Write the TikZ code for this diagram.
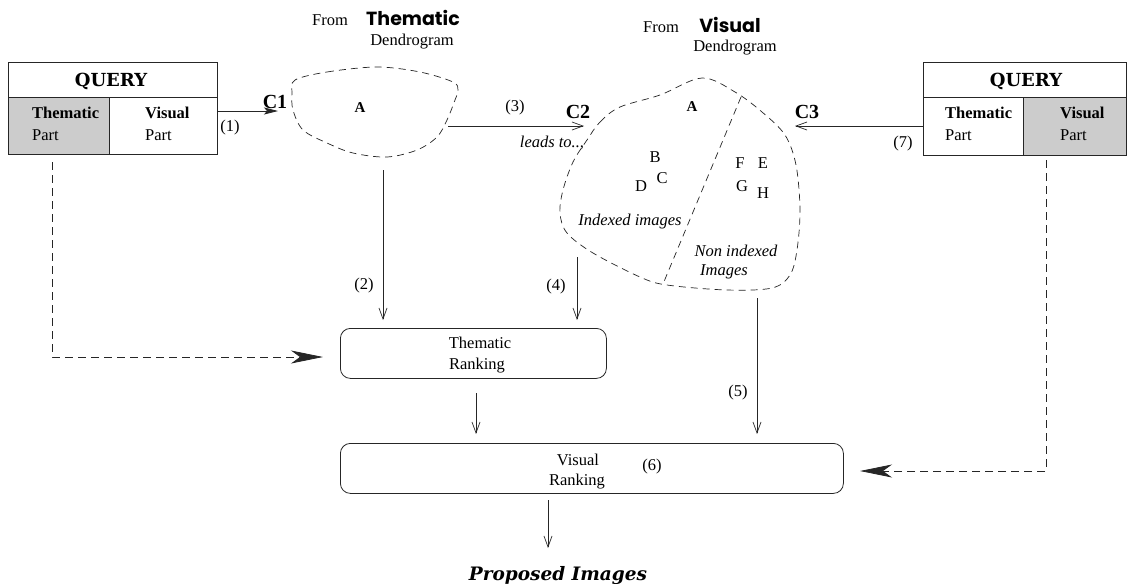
\documentclass[tikz,border=0pt]{standalone}
\usepackage{fontspec}
\setmainfont{Liberation Serif}
\newfontfamily\hdfont{Poppins}
\newfontfamily\qfont{DejaVu Serif}
\usetikzlibrary{arrows.meta}
\tikzset{
  txt/.style={font=\fontsize{16.5}{19}\selectfont, inner sep=0},
  bld/.style={font=\fontsize{16.5}{19}\selectfont\bfseries, inner sep=0},
  itx/.style={font=\fontsize{16.5}{19}\selectfont\itshape, inner sep=0},
  cl/.style={font=\fontsize{20}{24}\selectfont\bfseries, inner sep=0},
  hd/.style={font=\fontsize{19}{22}\selectfont\hdfont\bfseries, inner sep=0},
  qry/.style={font=\fontsize{18}{21}\selectfont\qfont\bfseries, inner sep=0},
  pim/.style={font=\fontsize{18.5}{22}\selectfont\qfont\bfseries\itshape, inner sep=0},
  cell/.style={draw=black!85, line width=0.9pt, inner sep=0, anchor=north west},
  shade/.style={cell, fill=gray!40},
  rbox/.style={draw=black!85, line width=0.8pt, rounded corners=10pt, inner sep=0, anchor=north west},
  blob/.style={draw=black!85, line width=0.7pt, dash pattern=on 7pt off 5pt},
  conn/.style={draw=black!85, line width=0.7pt, -{Straight Barb[length=11pt,width=8pt]}},
  fconn/.style={draw=black!85, line width=0.8pt, -{Stealth[length=14pt,width=7pt,inset=3pt]}},
  dconn/.style={draw=black!85, line width=0.8pt, dash pattern=on 8pt off 5pt, -{Stealth[length=32pt,width=13pt,inset=9pt]}},
}
\begin{document}
\begin{tikzpicture}[x=1pt,y=-1pt]
\useasboundingbox[fill=white] (0,0) rectangle (1128,584);

% Left query box
\node[cell, minimum width=209pt, minimum height=35pt] (lqh) at (8,62) {};
\node[shade, minimum width=101pt, minimum height=57pt] (lqt) at (8,97) {};
\node[cell, minimum width=108pt, minimum height=57pt] (lqv) at (109,97) {};
\node[qry] (lqq) at (111,81) {QUERY};
\node[bld, anchor=west] (lqt1) at (32,113) {Thematic};
\node[txt, anchor=west] (lqt2) at (32,135) {Part};
\node[bld, anchor=west] (lqv1) at (145,113) {Visual};
\node[txt, anchor=west] (lqv2) at (145,135) {Part};

% Right query box
\node[cell, minimum width=203pt, minimum height=35pt] (rqh) at (923,62) {};
\node[cell, minimum width=100pt, minimum height=58pt] (rqt) at (923,97) {};
\node[shade, minimum width=103pt, minimum height=58pt] (rqv) at (1023,97) {};
\node[qry] (rqq) at (1026,81) {QUERY};
\node[bld, anchor=west] (rqt1) at (945,113) {Thematic};
\node[txt, anchor=west] (rqt2) at (945,135) {Part};
\node[bld, anchor=west] (rqv1) at (1060,113) {Visual};
\node[txt, anchor=west] (rqv2) at (1060,135) {Part};

% Headings
\node[txt] (f1) at (330,20) {From};
\node[hd] (th) at (413,18) {Thematic};
\node[txt] (d1) at (412,42) {Dendrogram};
\node[txt] (f2) at (661,27) {From};
\node[hd] (vh) at (730,25) {Visual};
\node[txt] (d2) at (735,48) {Dendrogram};

% Blob 1
\draw[blob] plot[smooth cycle, tension=0.55] coordinates {
  (295,80) (327,72) (377,67) (420,72) (453,82) (458,90) (455,100) (447,120)
  (437,137) (417,150) (387,157) (353,153) (327,143) (303,130) (293,110) (292,93)};
\node[bld, font=\fontsize{15}{18}\selectfont\bfseries] (a1) at (360,108) {A};

% Blob 2
\draw[blob] plot[smooth cycle, tension=0.55] coordinates {
  (587,140) (600,122) (620,107) (660,95) (702,78) (735,92) (762,112) (785,135)
  (796,165) (800,210) (797,250) (790,275) (772,288) (727,290) (667,285)
  (640,277) (593,253) (567,233) (560,213) (563,190) (573,162)};
\coordinate (divt) at (741,97);
\coordinate (divb) at (663,284);
\draw[blob] (divt) -- (divb);
\node[bld, font=\fontsize{15}{18}\selectfont\bfseries] (a2) at (692,107) {A};
\node[txt] (lb) at (655,157) {B};
\node[txt] (lc) at (662,178) {C};
\node[txt] (ld) at (641,186) {D};
\node[txt] (lf) at (740,163) {F};
\node[txt] (le) at (763,163) {E};
\node[txt] (lg) at (742,186) {G};
\node[txt] (lh) at (763,193) {H};
\node[itx] (idx) at (630,222) {Indexed images};
\node[itx] (nidx) at (736,251) {Non indexed};
\node[itx] (nimg) at (724,272) {Images};

% Ranking boxes
\node[rbox, minimum width=266pt, minimum height=50pt] (tr) at (340,328) {};
\node[txt] (tr1) at (480,343) {Thematic};
\node[txt] (tr2) at (477,366) {Ranking};
\node[rbox, minimum width=503pt, minimum height=50pt] (vr) at (340,443) {};
\node[txt] (vr1) at (578,460) {Visual};
\node[txt] (vr2) at (577,482) {Ranking};
\node[txt] (l6) at (652,467) {(6)};
\node[pim] (pi) at (558,576) {Proposed Images};

% C labels
\node[cl] (c1) at (275,102) {C1};
\node[cl] (c2) at (578,112) {C2};
\node[cl] (c3) at (807,112) {C3};
\node[txt] (l1) at (230,128) {(1)};
\node[txt] (l3) at (515,108) {(3)};
\node[itx] (lt) at (552,143) {leads to..,};
\node[txt] (l7) at (903,144) {(7)};
\node[txt] (l2) at (364,286) {(2)};
\node[txt] (l4) at (556,287) {(4)};
\node[txt] (l5) at (738,393) {(5)};

% Connector coordinates
\coordinate (s1) at (lqv.east |- 0,111);
\coordinate (e1) at (278,111);
\coordinate (s3) at (448,126);
\coordinate (e3) at (584,126);
\coordinate (s7) at (rqt.west |- 0,126);
\coordinate (e7) at (795,126);
\coordinate (s2) at (383,170);
\coordinate (e2) at (383,320);
\coordinate (s4) at (577,257);
\coordinate (e4) at (577,320);
\coordinate (s5) at (757,298);
\coordinate (e5) at (757,434);
\coordinate (s6) at (476,393);
\coordinate (e6) at (476,434);
\coordinate (s8) at (548,500);
\coordinate (e8) at (548,548);
\coordinate (dl1) at (52,162);
\coordinate (dl2) at (52,357);
\coordinate (dl3) at (323,357);
\coordinate (dr1) at (1046,160);
\coordinate (dr2) at (1046,471);
\coordinate (dr3) at (860,471);

\draw[fconn] (s1) -- (e1);
\draw[conn] (s3) -- (e3);
\draw[conn] (s7) -- (e7);
\draw[conn] (s2) -- (e2);
\draw[conn] (s4) -- (e4);
\draw[conn] (s5) -- (e5);
\draw[conn] (s6) -- (e6);
\draw[conn] (s8) -- (e8);
\draw[dconn] (dl1) -- (dl2) -- (dl3);
\draw[dconn] (dr1) -- (dr2) -- (dr3);
\end{tikzpicture}
\end{document}
